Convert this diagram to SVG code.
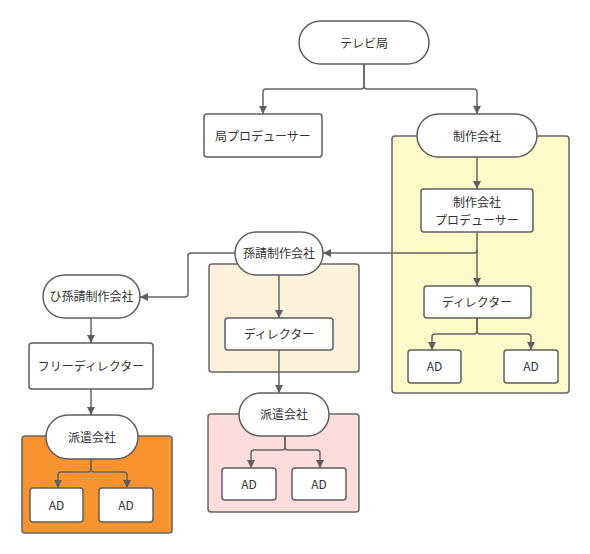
<svg xmlns="http://www.w3.org/2000/svg" width="590" height="554" viewBox="0 0 590 554">
<defs>
<marker id="arr" markerUnits="userSpaceOnUse" markerWidth="9" markerHeight="9" refX="8" refY="4" orient="auto">
<path d="M0,0 L8,4 L0,8 z" fill="#5f5f5f"/>
</marker>
<style>
.bg{fill:#ffffff}
.cont{stroke:#666;stroke-width:1.5}
.node{fill:#fff;stroke:#5f5f5f;stroke-width:1.5}
.c{fill:none;stroke:#666;stroke-width:1.5}
.a{marker-end:url(#arr)}
text{font-family:"Noto Sans CJK JP","Noto Sans",sans-serif;font-size:12px;fill:#333;text-anchor:middle}
</style>
</defs>
<rect class="bg" x="0" y="0" width="590" height="554"/>
<g id="containers">
<rect id="c-yellow" class="cont" x="392" y="136" width="177" height="257" rx="3" fill="#fef9c8"/>
<rect id="c-beige" class="cont" x="209" y="264" width="150" height="108" rx="3" fill="#fdf1dc"/>
<rect id="c-pink" class="cont" x="208" y="414" width="151" height="98" rx="3" fill="#fddcdc"/>
<rect id="c-orange" class="cont" x="22" y="436" width="150" height="97" rx="3" fill="#f7942f"/>
</g>
<g id="connectors">
<path class="c a" d="M364,64 V86 Q364,89 361,89 H266 Q263,89 263,92 V114"/>
<path class="c a" d="M364,64 V86 Q364,89 367,89 H474 Q477,89 477,92 V114"/>
<path class="c a" d="M477,157 V189"/>
<path class="c a" d="M477,232 V286"/>
<path class="c a" d="M477,250 Q477,253 474,253 H323"/>
<path class="c a" d="M477,318 V331 Q477,334 474,334 H435 Q432,334 432,337 V350"/>
<path class="c a" d="M477,318 V331 Q477,334 480,334 H528 Q531,334 531,337 V350"/>
<path class="c a" d="M235,253 H191 Q188,253 188,256 V294 Q188,297 185,297 H140"/>
<path class="c a" d="M279,275 V318"/>
<path class="c a" d="M279,350 V393"/>
<path class="c a" d="M285,436 V447 Q285,450 282,450 H254 Q251,450 251,453 V468"/>
<path class="c a" d="M285,436 V447 Q285,450 288,450 H317 Q320,450 320,453 V468"/>
<path class="c a" d="M91,318 V343"/>
<path class="c a" d="M91,389 V415"/>
<path class="c a" d="M91,459 V469 Q91,472 88,472 H61 Q58,472 58,475 V488"/>
<path class="c a" d="M91,459 V469 Q91,472 94,472 H124 Q127,472 127,475 V488"/>
</g>
<g id="n-tv"><rect class="node" x="299" y="21" width="130" height="43" rx="21.5"/><text x="364" y="47.5">テレビ局</text></g>
<g id="n-kyoku-pro"><rect class="node" x="204" y="114" width="118" height="43" rx="3"/><text x="263" y="140.5">局プロデューサー</text></g>
<g id="n-seisaku"><rect class="node" x="417" y="114" width="120" height="43" rx="21.5"/><text x="477" y="140.5">制作会社</text></g>
<g id="n-seisaku-pro"><rect class="node" x="421" y="189" width="112" height="43" rx="3"/><text x="477" y="206.5">制作会社</text><text x="477" y="224.5">プロデューサー</text></g>
<g id="n-dir1"><rect class="node" x="424" y="286" width="107" height="32" rx="3"/><text x="477" y="306.5">ディレクター</text></g>
<g id="n-ad1"><rect class="node" x="408" y="350" width="53" height="33" rx="3"/><text x="434.5" y="371">AD</text></g>
<g id="n-ad2"><rect class="node" x="504" y="350" width="54" height="33" rx="3"/><text x="531" y="371">AD</text></g>
<g id="n-magouke"><rect class="node" x="235" y="232" width="88" height="43" rx="21.5"/><text x="279" y="258">孫請制作会社</text></g>
<g id="n-dir2"><rect class="node" x="225" y="318" width="108" height="32" rx="3"/><text x="279" y="338.5">ディレクター</text></g>
<g id="n-haken2"><rect class="node" x="239" y="393" width="90" height="43" rx="21.5"/><text x="284" y="418.5">派遣会社</text></g>
<g id="n-ad3"><rect class="node" x="222" y="468" width="54" height="32" rx="3"/><text x="249" y="488.5">AD</text></g>
<g id="n-ad4"><rect class="node" x="292" y="468" width="54" height="32" rx="3"/><text x="319" y="488.5">AD</text></g>
<g id="n-himagouke"><rect class="node" x="43" y="275" width="97" height="43" rx="21.5"/><text x="91.5" y="301">ひ孫請制作会社</text></g>
<g id="n-free"><rect class="node" x="29" y="343" width="124" height="46" rx="3"/><text x="91" y="370.5">フリーディレクター</text></g>
<g id="n-haken1"><rect class="node" x="46" y="415" width="92" height="44" rx="22"/><text x="92" y="441.5">派遣会社</text></g>
<g id="n-ad5"><rect class="node" x="30" y="488" width="53" height="34" rx="3"/><text x="56.5" y="509.5">AD</text></g>
<g id="n-ad6"><rect class="node" x="99" y="488" width="54" height="34" rx="3"/><text x="126" y="509.5">AD</text></g>
</svg>
